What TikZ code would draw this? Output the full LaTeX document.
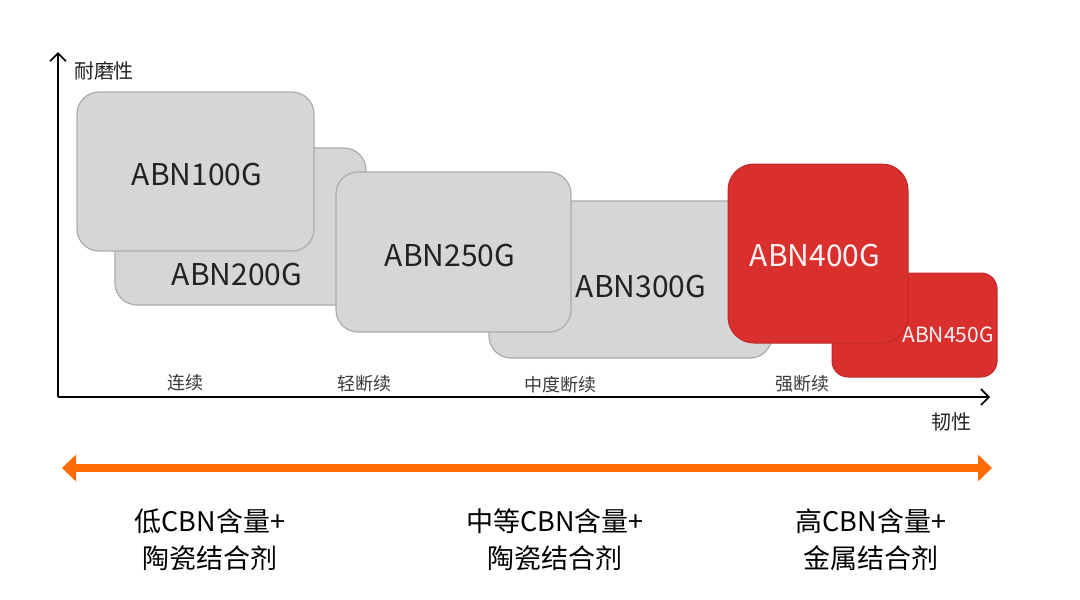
\documentclass[tikz,border=0pt]{standalone}
\usepackage{fontspec}
\setmainfont{Noto Sans CJK SC}
\usetikzlibrary{arrows.meta}
\definecolor{boxgray}{HTML}{D5D6D8}
\definecolor{boxline}{HTML}{ABABAB}
\definecolor{boxred}{HTML}{D92F2D}
\definecolor{redline}{HTML}{BE282A}
\definecolor{arroworange}{HTML}{FF6B00}
\definecolor{txt}{HTML}{222222}
\definecolor{cattxt}{HTML}{3A3A3A}
\begin{document}
\begin{tikzpicture}[x=1pt,y=-1pt,
  graybox/.style={draw=boxline, fill=boxgray, line width=1.2pt, rounded corners=22pt, inner sep=0pt},
  redbox/.style={draw=redline, fill=boxred, line width=1pt, rounded corners=24pt, inner sep=0pt},
  boxlabel/.style={font=\fontsize{30}{36}\selectfont, text=txt, inner sep=0pt},
  redlabel/.style={font=\fontsize{30}{36}\selectfont, text=white!95!red, inner sep=0pt},
  axislabel/.style={font=\fontsize{20}{24}\selectfont, text=txt, inner sep=0pt},
  catlabel/.style={font=\fontsize{18}{22}\selectfont, text=cattxt, inner sep=0pt},
  bottomlabel/.style={font=\fontsize{27}{37}\selectfont, text=black, align=center, inner sep=0pt},
  axisline/.style={line width=1.8pt, draw=black, -{Straight Barb[length=8pt,width=16pt,line width=1.6pt]}},
]
\useasboundingbox[fill=white] (0,0) rectangle (1080,600);

% boxes (drawing order gives overlaps)
\node[graybox, minimum width=251pt, minimum height=157pt] (b200) at (240.5,226.5) {};
\node[graybox, minimum width=237pt, minimum height=159pt] (b100) at (195.5,171.5) {};
\node[graybox, minimum width=283pt, minimum height=157pt] (b300) at (630.5,279.5) {};
\node[graybox, minimum width=235pt, minimum height=160pt] (b250) at (453.5,252) {};
\node[redbox, rounded corners=16pt, minimum width=165pt, minimum height=104pt] (b450) at (914.5,325) {};
\node[redbox, rounded corners=26pt, minimum width=180pt, minimum height=179pt] (b400) at (818,253.5) {};

% box labels
\node[boxlabel] (t100) at (197,174.5) {ABN100G};
\node[boxlabel] (t200) at (237,275) {ABN200G};
\node[boxlabel] (t250) at (450,256) {ABN250G};
\node[boxlabel] (t300) at (641,287) {ABN300G};
\node[redlabel] (t400) at (815,256) {ABN400G};
\node[redlabel, font=\fontsize{21}{25}\selectfont] (t450) at (948,335) {ABN450G};

% axes
\coordinate (O) at (58,397);
\coordinate (Ytop) at (58,52);
\coordinate (Xend) at (990,397);
\draw[axisline] (O) -- (Ytop);
\draw[axisline] (O) -- (Xend);
\node[axislabel] (ylab) at (104,71) {耐磨性};
\node[axislabel] (xlab) at (951,422) {韧性};

% category labels
\node[catlabel] (c1) at (185,383) {连续};
\node[catlabel] (c2) at (364,384) {轻断续};
\node[catlabel] (c3) at (560,385) {中度断续};
\node[catlabel] (c4) at (802,384) {强断续};

% orange double arrow
\coordinate (Aleft) at (62,468);
\coordinate (Aright) at (992,468);
\draw[line width=8pt, arroworange, {Triangle[length=14pt,width=26pt]}-{Triangle[length=14pt,width=26pt]}] (Aleft) -- (Aright);

% bottom labels
\node[bottomlabel] (l1) at (210,540) {低CBN含量+\\陶瓷结合剂};
\node[bottomlabel] (l2) at (555,540) {中等CBN含量+\\陶瓷结合剂};
\node[bottomlabel] (l3) at (871,540) {高CBN含量+\\金属结合剂};
\end{tikzpicture}
\end{document}
